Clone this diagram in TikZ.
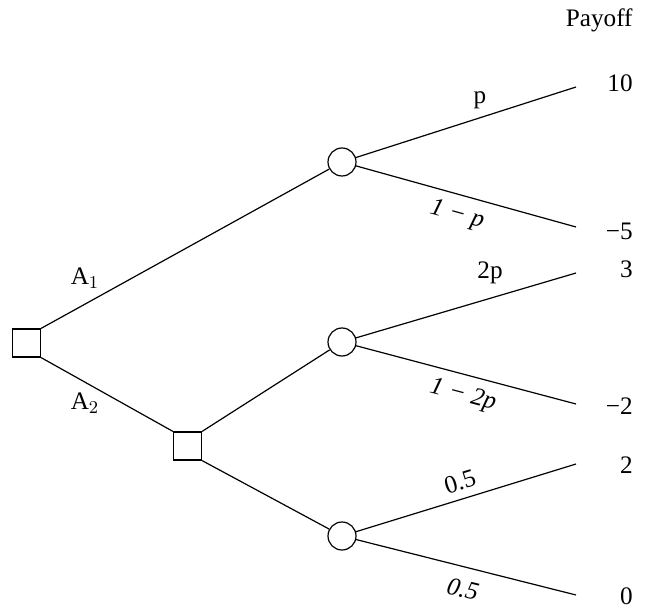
\documentclass[tikz,border=0pt]{standalone}
\usepackage{fontspec}
\setmainfont{Liberation Serif}
\usetikzlibrary{positioning}

\begin{document}
\begin{tikzpicture}[
  x=0.5pt, y=-0.5pt,
  decision/.style={rectangle, draw, minimum size=14pt, inner sep=0pt, line width=0.6pt},
  chance/.style={circle, draw, minimum size=14pt, inner sep=0pt, line width=0.6pt},
  branch/.style={line width=0.6pt},
  lbl/.style={font=\fontsize{12.6}{15}\selectfont, inner sep=0pt},
  payoff/.style={lbl, anchor=east}
]
  \useasboundingbox (0,0) rectangle (651,608);

  % Decision nodes
  \node[decision] (d1) at (26.5,343) {};
  \node[decision] (d2) at (187.5,446) {};

  % Chance nodes
  \node[chance] (c1) at (342,162) {};
  \node[chance] (c2) at (342,342) {};
  \node[chance] (c3) at (342,536) {};

  % Leaf ends
  \coordinate (e1) at (576,87);
  \coordinate (e2) at (576,227);
  \coordinate (e3) at (576,273);
  \coordinate (e4) at (576,404);
  \coordinate (e5) at (576,464);
  \coordinate (e6) at (576,595);

  \draw[branch] (d1.north east) -- (c1);
  \draw[branch] (d1.south east) -- (d2.north west);
  \draw[branch] (d2.north east) -- (c2);
  \draw[branch] (d2.south east) -- (c3);
  \draw[branch] (c1) -- (e1);
  \draw[branch] (c1) -- (e2);
  \draw[branch] (c2) -- (e3);
  \draw[branch] (c2) -- (e4);
  \draw[branch] (c3) -- (e5);
  \draw[branch] (c3) -- (e6);

  % Alternatives
  \node[lbl] (a1) at (85,278) {A$_1$};
  \node[lbl] (a2) at (85,403) {A$_2$};

  % Probabilities
  \node[lbl] (p1) at (480,100) {p};
  \node[lbl, rotate=-15.5] (p2) at (457,215) {\textit{1 − p}};
  \node[lbl] (p3) at (490,273) {2p};
  \node[lbl, rotate=-14.8] (p4) at (463,396) {\textit{1 − 2p}};
  \node[lbl, rotate=17] (p5) at (460,482) {0.5};
  \node[lbl, rotate=-14] (p6) at (463,589) {\textit{0.5}};

  % Payoffs
  \node[payoff] (hd) at (633,20) {Payoff};
  \node[payoff] (v1) at (633,83) {10};
  \node[payoff] (v2) at (633,231) {−5};
  \node[payoff] (v3) at (633,269) {3};
  \node[payoff] (v4) at (633,406) {−2};
  \node[payoff] (v5) at (633,465) {2};
  \node[payoff] (v6) at (633,596) {0};
\end{tikzpicture}
\end{document}
